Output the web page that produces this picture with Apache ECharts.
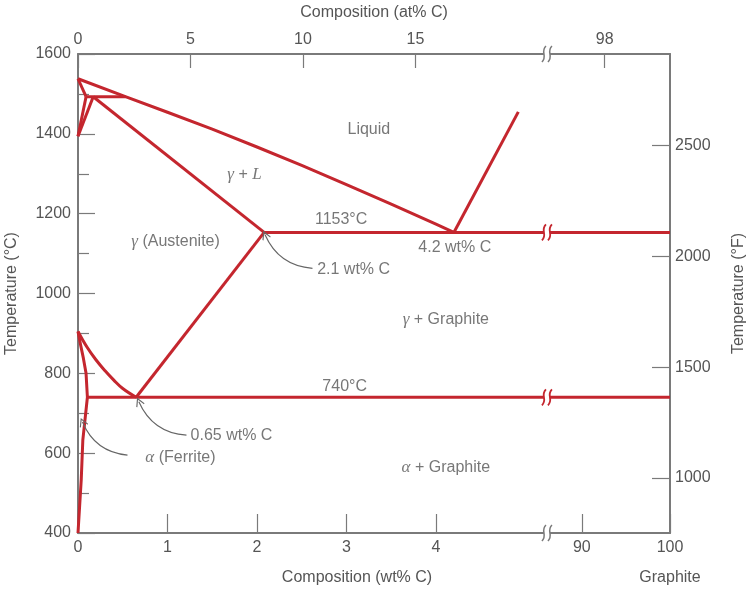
<!DOCTYPE html>
<html><head><meta charset="utf-8">
<script src="https://cdn.jsdelivr.net/npm/echarts@6/dist/echarts.min.js"></script>
<style>html,body{margin:0;padding:0;background:#fff}#c{width:753px;height:597px}</style>
</head><body><div id="c"></div>
<script>
// ---------- data: phase boundaries (wt% C, °C) ----------
const liquidusFe       = [[0,1538],[0.53,1493],[1.0,1454],[1.5,1412],[2.0,1367],[2.5,1321],[3.0,1273],[3.5,1224],[4.0,1174],[4.2,1153]];
const deltaSolidus     = [[0,1538],[0.09,1493]];
const peritectic       = [[0.09,1493],[0.53,1493]];
const deltaGammaLow    = [[0.09,1493],[0,1394]];
const deltaGammaHigh   = [[0.17,1493],[0,1394]];
const austeniteSolidus = [[0.17,1493],[2.08,1153]];
const eutecticLine     = [[2.08,1153],[100,1153]];
const graphiteLiquidus = [[4.2,1153],[4.92,1455]];
const acmLine          = [[0.65,740],[2.08,1153]];
const a3Line           = [[0,905],[0.1,866],[0.2,834],[0.3,807],[0.4,783],[0.5,762],[0.65,740]];
const alphaSolvus      = [[0,905],[0.03,870],[0.06,838],[0.09,800],[0.105,740],[0.054,633],[0.036,533],[0,400]];
const eutectoidLine    = [[0.105,740],[100,740]];

// ---------- ticks ----------
const wtTicks = [0,1,2,3,4,90,100];
const atTicks = [0,5,10,15,98];
const tempFTicks = [1000,1500,2000,2500];

// ---------- annotations ----------
const labelTexts = ['Liquid','Liquid\n+\nGraphite','{g|γ} + {g|L}','{g|γ} (Austenite)','1153°C','4.2 wt% C','2.1 wt% C','{g|γ} + Graphite','740°C','0.65 wt% C','{g|α} (Ferrite)','{g|α} + Graphite'];
const labelAt    = [[3.25,1410],[5.54,1352],[1.86,1297],[1.09,1131],[2.94,1184],[4.21,1114],[3.08,1059],[4.11,934],[2.98,768],[1.715,645],[1.145,588],[4.11,565]];
const arrowFrom  = [[2.62,1063],[1.212,645],[0.553,595]];
const arrowTo    = [[2.09,1147],[0.68,729],[0.05,678]];
const breakMarks = [[1600,0],[400,0],[1153,1],[740,1]];

// ---------- axis display mapping (broken composition axis) ----------
const XMAX = 6.615, BREAK_X = 5.24;
const D = w => w <= BREAK_X ? w : XMAX - (100 - w) * 0.0985;      // wt% -> display
const A = a => a <= 20 ? a * 0.2514 : XMAX - (100 - a) * 0.365;   // at% -> display
const C2F = c => c * 9 / 5 + 32;

const RED = '#c4262e', AX = '#7a7a7a', TX = '#555', FF = 'Liberation Sans, Arial, sans-serif';
const wtPos = wtTicks.map(D), atPos = atTicks.map(A);
const lookup = (pos, labels) => v => { const i = pos.findIndex(p => Math.abs(p - v) < 1e-6); return i >= 0 ? String(labels[i]) : ''; };

const smoothSet = [a3Line];
const phaseLines = [liquidusFe, deltaSolidus, peritectic, deltaGammaLow, deltaGammaHigh, austeniteSolidus,
  eutecticLine, graphiteLiquidus, acmLine, a3Line, alphaSolvus, eutectoidLine];

const series = phaseLines.map(arr => ({
  type: 'line', xAxisIndex: 0, yAxisIndex: 0, silent: true, showSymbol: false, symbol: 'none',
  smooth: smoothSet.includes(arr) ? 0.4 : false,
  lineStyle: { color: RED, width: 3, join: 'round' }, z: 3,
  data: arr.map(p => [D(p[0]), p[1]])
}));

series.push({
  type: 'lines', coordinateSystem: 'cartesian2d', xAxisIndex: 0, yAxisIndex: 0, silent: true, z: 4,
  symbol: ['none', 'path://M0,0 L5,9 L4,9.8 L0,2.6 L-4,9.8 L-5,9 Z'], symbolSize: [8, 9],
  lineStyle: { color: '#666', width: 1.2, curveness: 0.3, opacity: 1 },
  data: arrowFrom.map((f, i) => ({ coords: [[D(f[0]), f[1]], [D(arrowTo[i][0]), arrowTo[i][1]]] }))
});

series.push({
  type: 'scatter', xAxisIndex: 0, yAxisIndex: 0, silent: true, symbolSize: 1, z: 5,
  itemStyle: { color: 'rgba(0,0,0,0)' },
  label: { show: true, position: 'inside', formatter: p => p.name, color: TX, fontSize: 16, fontFamily: FF,
    lineHeight: 20, align: 'center', verticalAlign: 'middle',
    rich: { g: { fontFamily: 'Liberation Serif, Times New Roman, serif', fontStyle: 'italic', fontSize: 17, color: TX } } },
  data: labelAt.map((p, i) => ({ name: labelTexts[i], value: [D(p[0]), p[1]] }))
});

series.push({
  type: 'custom', coordinateSystem: 'cartesian2d', xAxisIndex: 0, yAxisIndex: 0, clip: false, silent: true, z: 20,
  encode: { x: 0, y: 1 },
  data: breakMarks.map(b => [BREAK_X, b[0], b[1]]),
  renderItem: (params, api) => {
    const p = api.coord([api.value(0), api.value(1)]);
    const isLine = api.value(2) === 1;
    const col = isLine ? RED : AX;
    const lw = isLine ? 1.8 : 1.5;
    const s = cx => ({ type: 'bezierCurve',
      shape: { x1: cx + 2, y1: p[1] - 8, cpx1: cx - 4, cpy1: p[1] - 2, cpx2: cx + 4, cpy2: p[1] + 2, x2: cx - 2, y2: p[1] + 8 },
      style: { stroke: col, lineWidth: lw, fill: null } });
    return { type: 'group', children: [
      { type: 'rect', shape: { x: p[0] - 3, y: p[1] - 3, width: 6, height: 6 }, style: { fill: '#fff' } },
      s(p[0] - 3), s(p[0] + 3)
    ] };
  }
});

const axisBase = {
  type: 'value', splitLine: { show: false }, nameMoveOverlap: false,
  axisLine: { show: true, onZero: false, lineStyle: { color: AX, width: 2 } },
  nameTextStyle: { color: TX, fontSize: 16, fontFamily: FF }
};

const option = {
  animation: false,
  textStyle: { fontFamily: FF },
  grid: { left: 78, right: 83, top: 54, bottom: 64, containLabel: false, outerBoundsMode: 'none' },
  xAxis: [
    Object.assign({}, axisBase, {
      position: 'bottom', min: 0, max: XMAX,
      axisTick: { show: true, inside: true, length: 19, customValues: wtPos, lineStyle: { color: AX, width: 1.2 } },
      axisLabel: { customValues: wtPos, margin: 7, color: TX, fontSize: 16, fontFamily: FF,
        formatter: v => { const s = lookup(wtPos, wtTicks)(v); return s === '100' ? '{a|100}\n{b|Graphite}' : '{a|' + s + '}'; },
        rich: { a: { fontSize: 16, lineHeight: 16, color: TX, fontFamily: FF }, b: { fontSize: 16, lineHeight: 44, color: TX, fontFamily: FF } } },
      name: 'Composition (wt% C)', nameLocation: 'middle', nameGap: 37,
      nameTextStyle: { color: TX, fontSize: 16, fontFamily: FF, padding: [0, 34, 0, 0] }
    }),
    Object.assign({}, axisBase, {
      position: 'top', min: 0, max: XMAX,
      axisTick: { show: true, inside: true, length: 14, customValues: atPos, lineStyle: { color: AX, width: 1.2 } },
      axisLabel: { customValues: atPos, margin: 6, color: TX, fontSize: 16, fontFamily: FF, formatter: lookup(atPos, atTicks) },
      name: 'Composition (at% C)', nameLocation: 'middle', nameGap: 33
    })
  ],
  yAxis: [
    Object.assign({}, axisBase, {
      position: 'left', min: 400, max: 1600, interval: 200,
      axisTick: { show: true, inside: true, length: 17, lineStyle: { color: AX, width: 1.2 } },
      minorTick: { show: true, splitNumber: 2, length: 11, lineStyle: { color: AX, width: 1.2 } },
      axisLabel: { margin: 7, color: TX, fontSize: 16, fontFamily: FF, formatter: v => String(v) },
      name: 'Temperature (°C)', nameLocation: 'middle', nameGap: 58, nameRotate: 90
    }),
    Object.assign({}, axisBase, {
      position: 'right', min: C2F(400), max: C2F(1600),
      axisTick: { show: true, inside: true, length: 18, customValues: tempFTicks, lineStyle: { color: AX, width: 1.2 } },
      axisLabel: { customValues: tempFTicks, margin: 5, color: TX, fontSize: 16, fontFamily: FF, formatter: v => String(v) },
      name: 'Temperature (°F)', nameLocation: 'middle', nameGap: 61, nameRotate: 90
    })
  ],
  series: series
};

const chart = echarts.init(document.getElementById('c'), null, { renderer: 'canvas' });
chart.setOption(option);
</script>
</body></html>
